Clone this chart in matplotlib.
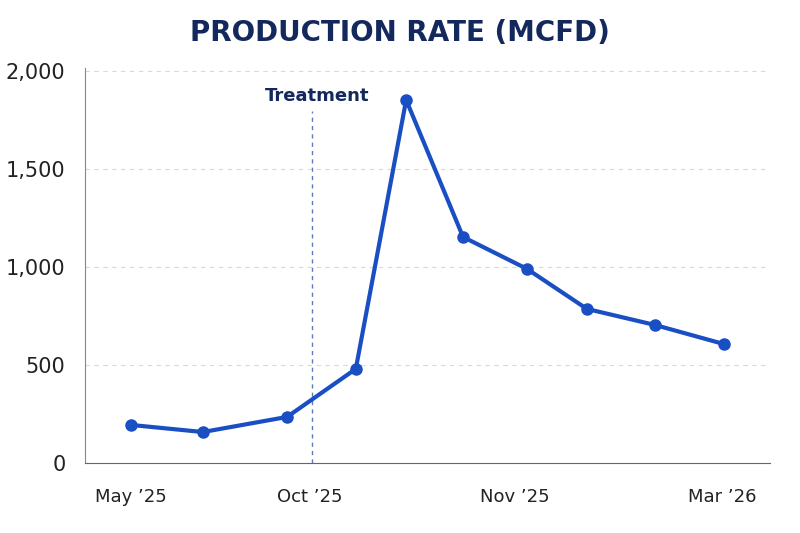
import matplotlib.pyplot as plt

# x positions in "step" units
x_pos = [0.0, 1.21, 2.63, 3.79, 4.64, 5.60, 6.68, 7.69, 8.84, 10.0]
rate = [194, 158, 235, 480, 1852, 1153, 990, 786, 704, 607]
tick_pos = [0.0, 3.02, 6.47, 9.97]
tick_labels = ["May \u201925", "Oct \u201925", "Nov \u201925", "Mar \u201926"]
treatment_x = 3.05

navy = "#13285c"
blue = "#1a4fc4"

fig = plt.figure(figsize=(8, 5.33), dpi=100)
ax = fig.add_axes([85 / 800, 1 - 463 / 533, 685 / 800, 395 / 533])

ax.plot(x_pos, rate, color=blue, linewidth=3, marker="o", markersize=8, zorder=3)
ax.axvline(treatment_x, ymax=0.89, color="#5a7fb8", linewidth=1, linestyle=(0, (3, 3)))
ax.text(treatment_x - 0.8, 1872, "Treatment", color=navy, fontsize=13,
        fontweight="bold", ha="left", va="center")

ax.set_xlim(-0.78, 10.78)
ax.set_ylim(0, 2015)
ax.set_yticks([0, 500, 1000, 1500, 2000])
ax.set_yticklabels(["0", "500", "1,000", "1,500", "2,000"])
ax.set_xticks(tick_pos)
ax.set_xticklabels(tick_labels)
ax.tick_params(axis="y", labelsize=15, length=0, pad=14, labelcolor="#222222")
ax.tick_params(axis="x", labelsize=13, length=0, pad=18, labelcolor="#222222")
ax.grid(axis="y", color="#d5d9e0", linestyle=(0, (4, 4)), linewidth=0.8)
ax.set_axisbelow(True)
for s in ["top", "right"]:
    ax.spines[s].set_visible(False)
ax.spines["left"].set_color("#888888")
ax.spines["bottom"].set_color("#666666")

fig.text(0.5, 1 - 33 / 533, "PRODUCTION RATE (MCFD)", ha="center", va="center",
         fontsize=20, fontweight="bold", color=navy)

fig.savefig("out.png", dpi=100)
